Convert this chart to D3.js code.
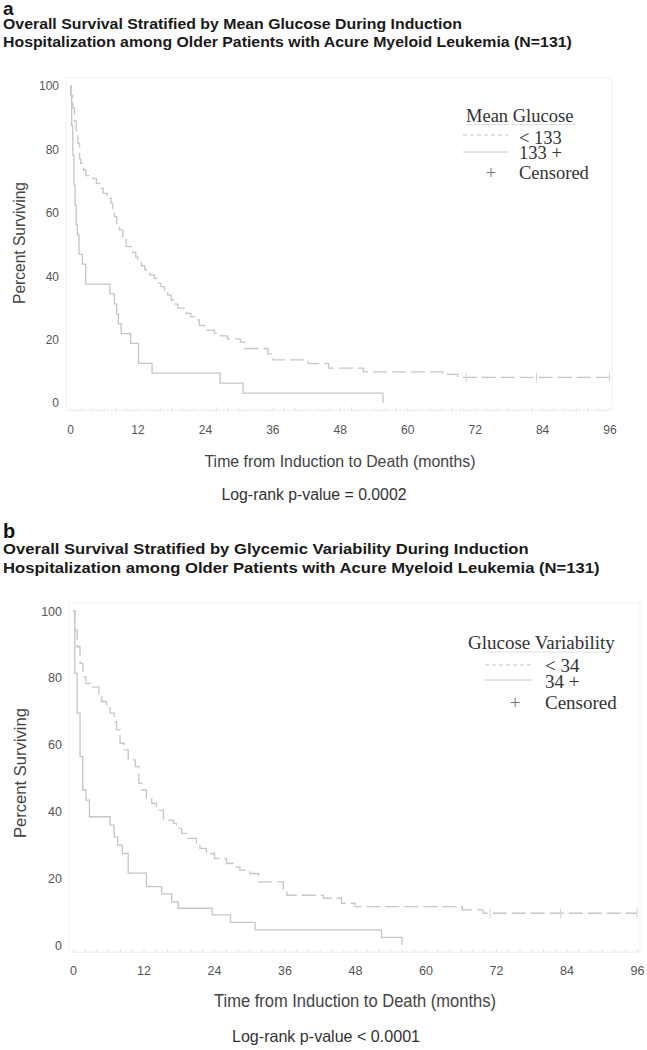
<!DOCTYPE html>
<html>
<head>
<meta charset="utf-8">
<script src="https://cdn.jsdelivr.net/npm/d3@7"></script>
<style>
  html, body { margin: 0; padding: 0; background: #fff; }
  svg { display: block; }
</style>
</head>
<body>
<svg id="chart" width="647" height="1050"></svg>
<script>
// ---------------- DATA ----------------
const xTicks = [0, 12, 24, 36, 48, 60, 72, 84, 96];
const yTicks = [0, 20, 40, 60, 80, 100];

// Panel a: Mean Glucose
const glucoseLowTime = [0, 0.2, 0.5, 0.8, 1.1, 1.4, 1.7, 1.9, 2.4, 2.8, 4.1, 4.7, 5.3, 5.9, 6.6, 7.3, 7.6, 7.9, 8.3, 8.8, 9.4, 10.0, 11.2, 11.7, 12.1, 12.7, 13.3, 14.2, 15.0, 15.6, 16.2, 16.8, 17.4, 18.0, 18.6, 19.2, 20.7, 21.5, 22.2, 23.0, 23.9, 25.7, 26.8, 28.0, 30.3, 31.1, 35.2, 36.1, 42.4, 46.0, 52.2, 66.3, 69.0, 96];
const glucoseLowSurv = [100, 97, 93, 89, 86, 82, 77, 75.6, 73.5, 71.7, 70.7, 69.3, 67.7, 66.1, 64.6, 63, 61, 58.8, 56.6, 54.6, 51.5, 49.3, 47.5, 46, 44.6, 43.3, 42, 40.4, 39.3, 37.8, 36.7, 35.6, 34, 32.5, 31.2, 29.9, 28.3, 27.2, 26.2, 24.5, 23, 22, 21.2, 20.2, 19.2, 17.2, 15.5, 13.6, 12.4, 11.0, 9.8, 9.0, 8.1, 8.1];
const glucoseLowCensor = [70.5, 83, 96];
const glucoseHighTime = [0, 0.15, 0.3, 0.5, 0.7, 0.9, 1.1, 1.3, 1.6, 2.2, 2.8, 7.1, 7.9, 8.3, 8.6, 9.1, 10.8, 12.2, 14.6, 26.7, 30.8, 55.7];
const glucoseHighSurv = [100, 96.9, 87.5, 78.1, 68.8, 62.5, 56.3, 53.1, 46.9, 43.8, 37.5, 34.4, 31.3, 28.1, 25, 21.9, 18.8, 12.5, 9.4, 6.3, 3.1, 0];

// Panel b: Glucose Variability
const variabLowTime = [0, 0.3, 0.7, 1.2, 1.7, 2.2, 2.9, 4.4, 4.9, 5.7, 6.3, 7.0, 7.4, 8.0, 8.7, 9.4, 10.6, 11.2, 11.7, 12.5, 13.4, 14.2, 15.4, 17.1, 17.6, 18.5, 19.3, 21.0, 21.6, 22.7, 24.1, 26.1, 27.3, 28.4, 30.1, 31.6, 35.8, 36.4, 42.6, 45.7, 48.0, 66.3, 69.8, 96];
const variabLowSurv = [100, 94.3, 89.3, 84.3, 80.3, 78.3, 77.2, 75.4, 72.9, 71.9, 69.4, 66.9, 64.4, 60.4, 58.4, 55.4, 53.4, 48.4, 46.4, 43.9, 42.4, 40.4, 37.4, 36.4, 34.9, 33.4, 31.9, 30.4, 28.9, 27.4, 25.9, 24.4, 23.4, 22.4, 21.4, 18.9, 16.4, 14.9, 14.0, 12.5, 11.5, 10.5, 9.5, 9.5];
const variabLowCensor = [71, 83, 96];
const variabHighTime = [0, 0.3, 0.7, 1.2, 1.65, 2.2, 2.8, 6.3, 7.0, 7.6, 8.4, 9.4, 12.5, 15.1, 16.8, 17.9, 23.7, 26.8, 31.0, 52.5, 56.0];
const variabHighSurv = [100, 81.3, 69.4, 56.4, 46.4, 43.4, 38.4, 35.9, 32.4, 29.9, 27.4, 21.5, 17.5, 15.3, 12.9, 11.0, 9.0, 6.8, 4.5, 2.3, 0];

// ---------------- DRAW ----------------
const svg = d3.select("#chart");
const curveColor = "#c6c6c6";
const sans = "'Liberation Sans', Arial, sans-serif";
const serif = "'Liberation Serif', 'Times New Roman', serif";

function drawPanel(p) {
  const g = svg.append("g");
  const x = d3.scaleLinear().domain([0, 96]).range(p.xRange);
  const y = d3.scaleLinear().domain([0, 100]).range(p.yRange);

  // panel letter and title
  g.append("text").attr("x", 3).attr("y", p.letterY)
    .attr("font-family", sans).attr("font-weight", "bold").attr("font-size", p.letterSize)
    .attr("fill", "#111").text(p.letter);
  const titles = p.title.map((t, i) => g.append("text").attr("x", 0).attr("y", 0)
      .attr("font-family", sans).attr("font-weight", "bold").attr("font-size", p.titleSize)
      .attr("fill", "#1a1a1a").text(t));
  const natural = titles[0].node().getComputedTextLength();
  const sx = p.titleW / natural;
  titles.forEach((t, i) => t.attr("transform", `translate(3,${p.titleY[i]}) scale(${sx},1)`));

  // faint frame
  g.append("rect").attr("x", p.frame[0]).attr("y", p.frame[1])
    .attr("width", p.frame[2] - p.frame[0]).attr("height", p.frame[3] - p.frame[1])
    .attr("fill", "none").attr("stroke", "#f1f1f1").attr("stroke-width", 1);

  // bottom rug axis (minor ticks)
  const rug = g.append("g").attr("transform", `translate(0,${p.frame[3]})`)
    .call(d3.axisBottom(x).tickValues(d3.range(0, 97, 2)).tickSize(-3).tickFormat(""));
  rug.select(".domain").attr("stroke", "#e6e6e6").attr("stroke-dasharray", "2,2");
  rug.selectAll(".tick line").attr("stroke", "#e6e6e6");

  // x tick labels
  const xa = g.append("g").attr("transform", `translate(0,${p.frame[3]})`)
    .call(d3.axisBottom(x).tickValues(xTicks).tickSize(0).tickPadding(p.xPad));
  xa.select(".domain").remove();
  xa.selectAll("text").attr("font-family", sans).attr("font-size", p.tickSize).attr("fill", "#555");

  // y tick labels
  const ya = g.append("g").attr("transform", `translate(${p.yAxisX},0)`)
    .call(d3.axisLeft(y).tickValues(yTicks).tickSize(0).tickPadding(p.yPad));
  ya.select(".domain").remove();
  ya.selectAll("text").attr("font-family", sans).attr("font-size", p.tickSize).attr("fill", "#555");

  // axis titles
  g.append("text").attr("transform", `translate(${p.yTitle[0]},${p.yTitle[1]}) rotate(-90)`)
    .attr("text-anchor", "middle").attr("font-family", sans).attr("font-size", p.yTitleSize)
    .attr("fill", "#444").attr("textLength", p.yTitleW).attr("lengthAdjust", "spacingAndGlyphs")
    .text("Percent Surviving");
  g.append("text").attr("x", p.xTitle[0]).attr("y", p.xTitle[1])
    .attr("text-anchor", "middle").attr("font-family", sans).attr("font-size", p.xTitleSize)
    .attr("fill", "#444").attr("textLength", p.xTitleW).attr("lengthAdjust", "spacingAndGlyphs")
    .text("Time from Induction to Death (months)");
  g.append("text").attr("x", p.pval[0]).attr("y", p.pval[1])
    .attr("text-anchor", "middle").attr("font-family", sans).attr("font-size", p.pvalSize)
    .attr("fill", "#333").attr("textLength", p.pvalW).attr("lengthAdjust", "spacingAndGlyphs")
    .text(p.pvalText);

  // curves
  const line = d3.line().x(d => x(d[0])).y(d => y(d[1])).curve(d3.curveStepAfter);
  const low = d3.zip(p.lowTime, p.lowSurv);
  const high = d3.zip(p.highTime, p.highSurv);
  g.append("path").datum(high).attr("d", line).attr("fill", "none")
    .attr("stroke", curveColor).attr("stroke-width", 1.3);
  g.append("path").datum(low).attr("d", line).attr("fill", "none")
    .attr("stroke", curveColor).attr("stroke-width", 1.3).attr("stroke-dasharray", "14,5");

  // censor marks
  const lastSurv = p.lowSurv[p.lowSurv.length - 1];
  g.selectAll(null).data(p.lowCensor).enter().append("line")
    .attr("x1", d => x(d)).attr("x2", d => x(d))
    .attr("y1", y(lastSurv) - 5).attr("y2", y(lastSurv) + 5)
    .attr("stroke", "#d4d4d4").attr("stroke-width", 1);

  // legend
  const L = p.legend;
  g.append("text").attr("x", L.titleX).attr("y", L.titleY)
    .attr("font-family", serif).attr("font-size", L.size).attr("fill", "#333").text(L.title);
  g.append("line").attr("x1", L.ulX[0]).attr("x2", L.ulX[1]).attr("y1", L.ulY).attr("y2", L.ulY)
    .attr("stroke", "#e2e2e2").attr("stroke-width", 1);
  g.append("line").attr("x1", L.lineX[0]).attr("x2", L.lineX[1]).attr("y1", L.dashY).attr("y2", L.dashY)
    .attr("stroke", curveColor).attr("stroke-width", 1).attr("stroke-dasharray", "4,3");
  g.append("line").attr("x1", L.lineX[0]).attr("x2", L.lineX[1]).attr("y1", L.solidY).attr("y2", L.solidY)
    .attr("stroke", curveColor).attr("stroke-width", 1);
  L.labels.forEach((t, i) => {
    g.append("text").attr("x", L.textX).attr("y", L.labelY[i])
      .attr("font-family", serif).attr("font-size", L.size).attr("fill", "#333").text(t);
  });
  g.append("text").attr("x", L.plusX).attr("y", L.labelY[2]).attr("text-anchor", "middle")
    .attr("font-family", serif).attr("font-size", L.size).attr("fill", "#777").text("+");
}

drawPanel({
  letter: "a", letterY: 15, letterSize: 19,
  title: ["Overall Survival Stratified by Mean Glucose During Induction",
          "Hospitalization among Older Patients with Acure Myeloid Leukemia (N=131)"],
  titleY: [29, 47], titleW: 459, titleSize: 14.5,
  xRange: [70, 609.5], yRange: [403, 86],
  frame: [66, 78, 612, 410],
  xPad: 15, yAxisX: 66, yPad: 7, tickSize: 12,
  yTitle: [25, 243], yTitleSize: 16.5, yTitleW: 122,
  xTitle: [340, 467], xTitleSize: 17, xTitleW: 271,
  pval: [314, 500], pvalSize: 16, pvalW: 185, pvalText: "Log-rank p-value = 0.0002",
  lowTime: glucoseLowTime, lowSurv: glucoseLowSurv, lowCensor: glucoseLowCensor,
  highTime: glucoseHighTime, highSurv: glucoseHighSurv,
  legend: {
    title: "Mean Glucose", titleX: 466, titleY: 122, size: 18.5,
    ulX: [466, 575], ulY: 124.5,
    lineX: [463, 508], dashY: 135, solidY: 152,
    textX: 519, labels: ["< 133", "133 +", "Censored"], labelY: [144, 159, 179],
    plusX: 491
  }
});

drawPanel({
  letter: "b", letterY: 538, letterSize: 20,
  title: ["Overall Survival Stratified by Glycemic Variability During Induction",
          "Hospitalization among Older Patients with Acure Myeloid Leukemia (N=131)"],
  titleY: [554, 573], titleW: 526, titleSize: 15,
  xRange: [73, 637], yRange: [945, 611],
  frame: [69, 603, 640, 952],
  xPad: 14, yAxisX: 69, yPad: 7, tickSize: 12.5,
  yTitle: [26, 773], yTitleSize: 17, yTitleW: 130,
  xTitle: [355, 1007], xTitleSize: 17.5, xTitleW: 282,
  pval: [326, 1042], pvalSize: 16.5, pvalW: 188, pvalText: "Log-rank p-value < 0.0001",
  lowTime: variabLowTime, lowSurv: variabLowSurv, lowCensor: variabLowCensor,
  highTime: variabHighTime, highSurv: variabHighSurv,
  legend: {
    title: "Glucose Variability", titleX: 468, titleY: 649, size: 19,
    ulX: [485, 605], ulY: 652,
    lineX: [485, 532], dashY: 665, solidY: 680,
    textX: 545, labels: ["< 34", "34 +", "Censored"], labelY: [672, 688, 709],
    plusX: 515
  }
});
</script>
</body>
</html>
